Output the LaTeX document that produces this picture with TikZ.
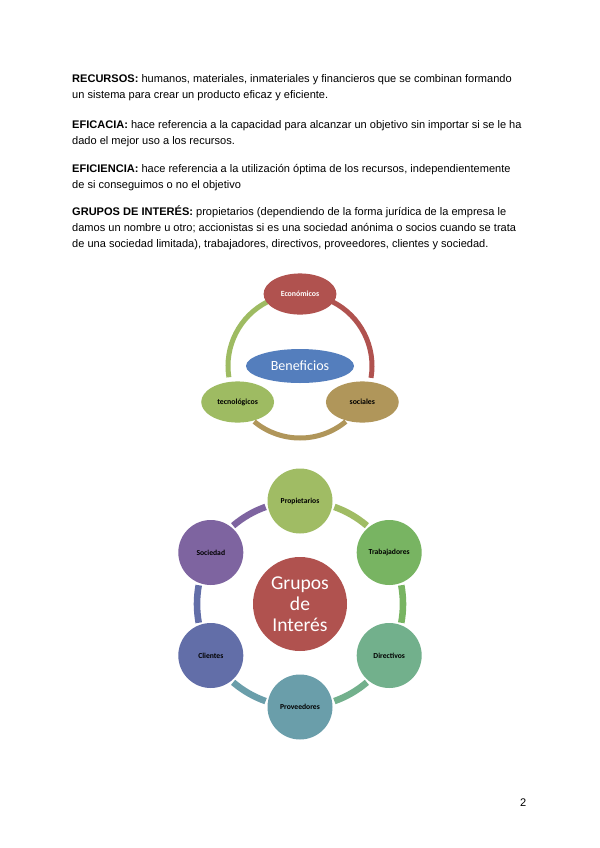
\documentclass[tikz,border=0pt]{standalone}
\usepackage{fontspec}
\setmainfont{Liberation Sans}
\newfontfamily\smartfont{Carlito}
\usepackage{tikz}
\usetikzlibrary{shapes.geometric, positioning, calc}
\definecolor{econred}{RGB}{176,82,79}
\definecolor{socgold}{RGB}{176,150,90}
\definecolor{tecgreen}{RGB}{158,187,98}
\definecolor{benblue}{RGB}{84,126,189}
\definecolor{propgreen}{RGB}{160,188,100}
\definecolor{trabgreen}{RGB}{120,180,98}
\definecolor{dirteal}{RGB}{114,176,140}
\definecolor{provteal}{RGB}{106,158,170}
\definecolor{cliblue}{RGB}{98,110,168}
\definecolor{socpurple}{RGB}{126,100,160}
\definecolor{grupred}{RGB}{176,82,79}

\begin{document}
\begin{tikzpicture}[x=0.35mm, y=0.35mm,
    bodyline/.style={anchor=base west, inner sep=0pt, font=\fontsize{11}{13}\selectfont},
    petal/.style={ellipse, minimum width=25.5mm, minimum height=14.4mm, inner sep=0pt, font=\smartfont\bfseries\fontsize{7.8}{9}\selectfont},
    member/.style={circle, minimum size=22.75mm, inner sep=0pt, font=\smartfont\bfseries\fontsize{7.6}{9}\selectfont},
    ringA/.style={line width=1.75mm},
    ringB/.style={line width=2.3mm}]

    \useasboundingbox[fill=white] (0,0) rectangle (600,-848);

    % texto
    \node[bodyline] (recA) at (72,-82) {\textbf{RECURSOS:} humanos, materiales, inmateriales y financieros que se combinan formando};
    \node[bodyline] (recB) at (72,-98) {un sistema para crear un producto eficaz y eficiente.};
    \node[bodyline] (efcA) at (72,-128) {\textbf{EFICACIA:} hace referencia a la capacidad para alcanzar un objetivo sin importar si se le ha};
    \node[bodyline] (efcB) at (72,-144) {dado el mejor uso a los recursos.};
    \node[bodyline] (efiA) at (72,-172) {\textbf{EFICIENCIA:} hace referencia a la utilización óptima de los recursos, independientemente};
    \node[bodyline] (efiB) at (72,-188) {de si conseguimos o no el objetivo};
    \node[bodyline] (grpA) at (72,-215) {\textbf{GRUPOS DE INTERÉS:} propietarios (dependiendo de la forma jurídica de la empresa le};
    \node[bodyline] (grpB) at (72,-231) {damos un nombre u otro; accionistas si es una sociedad anónima o socios cuando se trata};
    \node[bodyline] (grpC) at (72,-247) {de una sociedad limitada), trabajadores, directivos, proveedores, clientes y sociedad.};
    \node[bodyline] (pagenum) at (520,-806.5) {2};

    % beneficios
    \coordinate (bcen) at (300,-366);
    \draw[ringA, econred] ([shift={(63:25.2mm)}]bcen) arc[start angle=63, end angle=-9.5, radius=25.2mm];
    \draw[ringA, socgold] ([shift={(-50.5:25.2mm)}]bcen) arc[start angle=-50.5, end angle=-129.5, radius=25.2mm];
    \draw[ringA, tecgreen] ([shift={(189:25.2mm)}]bcen) arc[start angle=189, end angle=117, radius=25.2mm];

    \node[petal, fill=econred, text=white] (econ) at ([shift={(90:25.2mm)}]bcen) {Económicos};
    \node[petal, fill=socgold] (soci) at ([shift={(-30:25.2mm)}]bcen) {sociales};
    \node[petal, fill=tecgreen] (tecn) at ([shift={(210:25.2mm)}]bcen) {tecnológicos};
    \node[ellipse, fill=benblue, minimum width=37.8mm, minimum height=11.9mm, text=white, font=\smartfont\fontsize{14}{16}\selectfont] (benef) at (bcen) {Beneficios};

    % grupos de interes
    \coordinate (gcen) at (300,-604);
    \draw[ringB, propgreen] ([shift={(70.5:36.05mm)}]gcen) arc[start angle=70.5, end angle=49.5, radius=36.05mm];
    \draw[ringB, trabgreen] ([shift={(10.5:36.05mm)}]gcen) arc[start angle=10.5, end angle=-10.5, radius=36.05mm];
    \draw[ringB, dirteal] ([shift={(-49.5:36.05mm)}]gcen) arc[start angle=-49.5, end angle=-70.5, radius=36.05mm];
    \draw[ringB, provteal] ([shift={(-109.5:36.05mm)}]gcen) arc[start angle=-109.5, end angle=-130.5, radius=36.05mm];
    \draw[ringB, cliblue] ([shift={(-169.5:36.05mm)}]gcen) arc[start angle=-169.5, end angle=-190.5, radius=36.05mm];
    \draw[ringB, socpurple] ([shift={(130.5:36.05mm)}]gcen) arc[start angle=130.5, end angle=109.5, radius=36.05mm];

    \node[member, fill=propgreen] (prop) at ([shift={(90:36.05mm)}]gcen) {Propietarios};
    \node[member, fill=trabgreen] (trab) at ([shift={(30:36.05mm)}]gcen) {Trabajadores};
    \node[member, fill=dirteal] (dire) at ([shift={(-30:36.05mm)}]gcen) {Directivos};
    \node[member, fill=provteal] (prov) at ([shift={(-90:36.05mm)}]gcen) {Proveedores};
    \node[member, fill=cliblue] (clie) at ([shift={(-150:36.05mm)}]gcen) {Clientes};
    \node[member, fill=socpurple] (soct) at ([shift={(150:36.05mm)}]gcen) {Sociedad};
    \node[circle, fill=grupred, minimum size=32.9mm, inner sep=0pt, text=white, align=center, font=\smartfont\fontsize{19.5}{21}\selectfont] (grupos) at (gcen) {Grupos\\de\\Interés};
\end{tikzpicture}
\end{document}
